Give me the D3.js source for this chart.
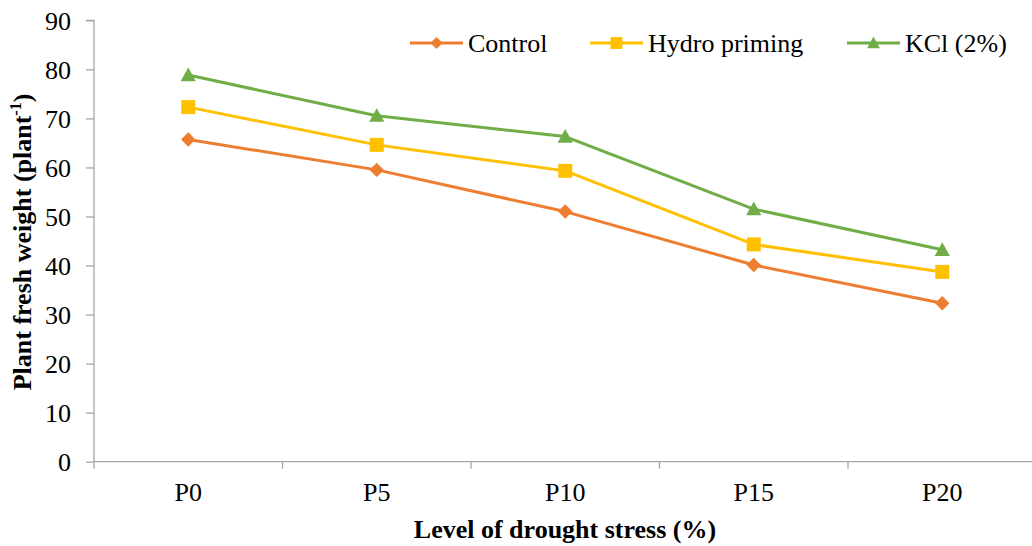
<!DOCTYPE html>
<html>
<head>
<meta charset="utf-8">
<script src="https://cdn.jsdelivr.net/npm/d3@7"></script>
<style>
  html, body { margin: 0; padding: 0; background: #fff; }
  svg { display: block; }
  svg text { font-family: "Liberation Serif", "Times New Roman", serif; fill: #000; }
</style>
</head>
<body>
<svg id="chart" width="1032" height="546"></svg>
<script>
// Plant fresh weight under increasing drought stress
const categories = ["P0", "P5", "P10", "P15", "P20"];
const seriesNames = ["Control", "Hydro priming", "KCl (2%)"];
const controlValues = [65.7, 59.5, 51.0, 40.1, 32.3];
const hydroValues = [72.3, 64.6, 59.3, 44.3, 38.7];
const kclValues = [78.85, 70.55, 66.3, 51.5, 43.2];
const yTicks = [0, 10, 20, 30, 40, 50, 60, 70, 80, 90];

const series = [
  { name: seriesNames[0], values: controlValues, color: "#ED7D31", marker: "diamond" },
  { name: seriesNames[1], values: hydroValues, color: "#FFC000", marker: "square" },
  { name: seriesNames[2], values: kclValues, color: "#70AD47", marker: "triangle" }
];

const svg = d3.select("#chart");
const axisColor = "#A6A6A6";
const serif = "'Liberation Serif', 'Times New Roman', serif";

const x = d3.scaleBand().domain(categories).range([94, 1036.5]).paddingInner(0).paddingOuter(0);
const y = d3.scaleLinear().domain([0, 90]).range([461.7, 20.3]);
const cx = c => x(c) + x.bandwidth() / 2;

// marker path generators, centred on the origin
function markerPath(type, s) {
  if (type === "diamond") return `M0,${-s}L${s},0L0,${s}L${-s},0Z`;
  if (type === "square") return `M${-s},${-s}H${s}V${s}H${-s}Z`;
  const h = s * 1.8;
  return `M0,${-h * 0.55}L${s},${h * 0.45}L${-s},${h * 0.45}Z`;
}
const markerSize = { diamond: 7.2, square: 7, triangle: 7.6 };

// y axis
const yAxis = svg.append("g").attr("transform", "translate(94,0)")
  .call(d3.axisLeft(y).tickValues(yTicks).tickSize(8).tickPadding(15).tickFormat(d3.format("d")));
yAxis.attr("font-family", null).attr("font-size", null);
yAxis.select(".domain").attr("stroke", axisColor).attr("stroke-width", 1.3).attr("d", `M-8,${y(90)}H0V${y(0)}`);
yAxis.selectAll(".tick line").attr("stroke", axisColor).attr("stroke-width", 1.3);
yAxis.selectAll(".tick text").style("font-family", serif).style("font-size", "26px").attr("dy", "0.34em");

// x axis with ticks on category boundaries
const xAxisG = svg.append("g").attr("transform", `translate(0,${y(0)})`);
xAxisG.append("line").attr("x1", 94).attr("x2", 1036.5).attr("y1", 0).attr("y2", 0)
  .attr("stroke", axisColor).attr("stroke-width", 1.3);
const boundaries = categories.map(c => x(c)).concat([x(categories[categories.length - 1]) + x.bandwidth()]);
xAxisG.selectAll("line.tk").data(boundaries).join("line").attr("class", "tk")
  .attr("x1", d => d).attr("x2", d => d).attr("y1", 0).attr("y2", 7)
  .attr("stroke", axisColor).attr("stroke-width", 1.3);
svg.append("g").selectAll("text").data(categories).join("text")
  .attr("x", d => cx(d)).attr("y", 501).attr("text-anchor", "middle")
  .style("font-family", serif).style("font-size", "26px").text(d => d);

// series lines and markers
const line = d3.line().x((d, i) => cx(categories[i])).y(d => y(d));
series.forEach(s => {
  svg.append("path").attr("d", line(s.values)).attr("fill", "none")
    .attr("stroke", s.color).attr("stroke-width", 3).attr("stroke-linejoin", "round");
  svg.append("g").selectAll("path").data(s.values).join("path")
    .attr("transform", (d, i) => `translate(${cx(categories[i])},${y(d)})`)
    .attr("d", markerPath(s.marker, markerSize[s.marker])).attr("fill", s.color);
});

// legend
const legendX = [410, 590, 847];
const legendY = 43;
series.forEach((s, i) => {
  const g = svg.append("g").attr("transform", `translate(${legendX[i]},${legendY})`);
  g.append("line").attr("x1", 0).attr("x2", 53).attr("stroke", s.color).attr("stroke-width", 3);
  g.append("path").attr("transform", "translate(26.5,0)")
    .attr("d", markerPath(s.marker, markerSize[s.marker] * 0.85)).attr("fill", s.color);
  g.append("text").attr("x", 58).attr("y", 0).attr("dy", "0.34em")
    .style("font-family", serif).style("font-size", "26px").text(s.name);
});

// axis titles
svg.append("text").attr("x", 565).attr("y", 538).attr("text-anchor", "middle")
  .style("font-family", serif).style("font-size", "26px").style("font-weight", "bold")
  .text("Level of drought stress (%)");

const yTitle = svg.append("text").attr("transform", "translate(31,242) rotate(-90)")
  .attr("text-anchor", "middle")
  .style("font-family", serif).style("font-size", "26px").style("font-weight", "bold");
yTitle.append("tspan").text("Plant fresh weight (plant");
yTitle.append("tspan").style("font-size", "16px").attr("dy", "-10").text("-1");
yTitle.append("tspan").attr("dy", "10").text(")");
</script>
</body>
</html>
